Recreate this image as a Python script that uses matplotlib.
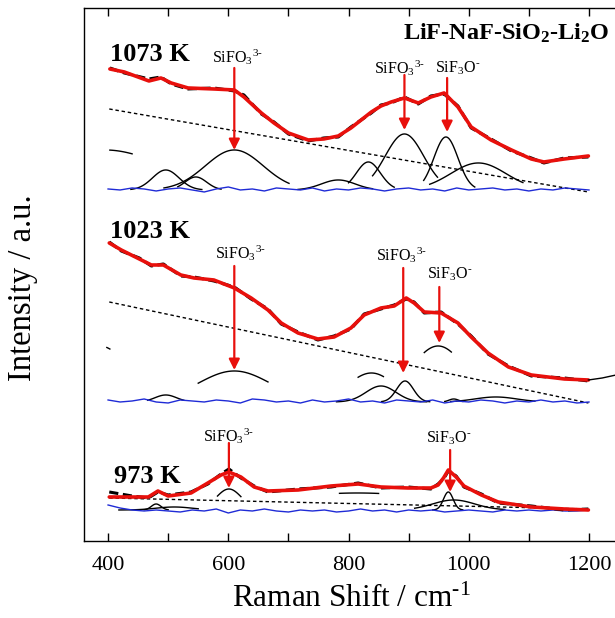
"""
Stacked Raman spectra of LiF-NaF-SiO2-Li2O melt with Gaussian deconvolution.
"""
import numpy as np
import matplotlib
matplotlib.use('Agg')
import matplotlib.pyplot as plt
from matplotlib.ticker import MultipleLocator

plt.rcParams.update({
    'font.family': 'Liberation Serif',
    'mathtext.fontset': 'custom',
    'mathtext.rm': 'Liberation Serif',
    'mathtext.it': 'Liberation Serif:italic',
    'mathtext.bf': 'Liberation Serif:bold',
})

HY = '\u2010'  # short hyphen used in the superscript charges

# ---- fitted envelope (red) ----
fit_1073_x = [403, 427, 468, 488, 505, 533, 576, 610, 626, 655, 676, 700, 733, 759, 783, 804,
              838, 854, 871, 893, 916, 937, 959, 982, 1004, 1037, 1071, 1104, 1125, 1159, 1199]
fit_1073_y = [472, 469, 460, 463, 458, 453, 452, 451, 444, 428, 418, 408, 401, 402, 405, 413,
              429, 435, 439, 443, 438, 444, 448, 434, 414, 401, 391, 382, 379, 382, 385]

fit_1023_x = [402, 422, 452, 472, 492, 521, 543, 576, 610, 638, 666, 688, 716, 749, 776, 804,
              826, 854, 876, 896, 909, 926, 954, 982, 1004, 1032, 1066, 1104, 1159, 1199]
fit_1023_y = [298, 291, 282, 276, 276, 266, 263, 261, 253, 243, 231, 218, 208, 202, 204, 213,
              226, 233, 235, 243, 238, 229, 228, 218, 204, 188, 174, 166, 162, 161]

fit_973_x = [402, 440, 467, 483, 500, 538, 566, 588, 601, 621, 643, 666, 716, 771, 816, 854,
             899, 937, 949, 958, 966, 979, 992, 1021, 1049, 1104, 1159, 1199]
fit_973_y = [44, 44, 44, 50, 45, 48, 58, 66, 69, 64, 54, 50, 51, 55, 57, 54,
             53, 53, 56, 63, 71, 64, 55, 46, 39, 34, 32, 31]

# ---- measured spectra (black) ----
obs_1073_y = [473, 468, 462, 464, 457, 452, 453, 450, 446, 427, 419, 407, 400, 403, 404, 414,
              428, 436, 438, 444, 437, 445, 447, 435, 413, 402, 390, 383, 378, 383, 384]
obs_1023_y = [299, 290, 283, 275, 277, 265, 264, 260, 254, 242, 232, 217, 209, 201, 205, 212,
              227, 232, 236, 242, 239, 228, 229, 217, 205, 187, 175, 165, 163, 160]
obs_973_y = [49, 45, 43, 49, 46, 49, 57, 67, 72, 63, 55, 49, 52, 54, 58, 53,
             54, 52, 57, 62, 70, 65, 54, 47, 38, 35, 31, 32]
tail_1023_x = [1199, 1222, 1245]
tail_1023_y = [161, 163, 166]

# ---- linear baselines (dotted) ----
base_x = [402, 1199]
base_1073_y = [432, 349]
base_1023_y = [239, 138]
base_973_y = [43, 32]

# ---- residuals (blue) ----
res_x = np.arange(400, 1201, 20)
res_1073_y = [352, 351, 353, 352, 350, 352, 353, 351, 349, 352, 354, 351, 352, 350, 353, 352,
              351, 353, 350, 352, 351, 353, 352, 350, 352, 353, 351, 352, 350, 353, 351, 352,
              353, 351, 352, 350, 352, 351, 353, 352, 351]
res_1023_y = [141, 139, 140, 142, 139, 138, 141, 140, 139, 141, 140, 138, 142, 141, 139, 140,
              138, 141, 139, 140, 142, 139, 140, 138, 141, 140, 139, 141, 138, 140, 139, 141,
              140, 138, 140, 139, 141, 139, 140, 138, 139]
res_973_y = [36, 33, 31, 30, 31, 30, 29, 31, 30, 32, 28, 31, 30, 32, 30, 29,
             31, 30, 31, 29, 30, 32, 30, 31, 29, 31, 30, 31, 29, 30, 31, 30,
             29, 31, 30, 31, 30, 31, 30, 30, 31]

# ---- Gaussian components: (centre, height, sigma, x_from, x_to) ----
comp_1073_base = 351
comp_1073 = [(395, 40, 100, 403, 440), (496, 20, 22, 438, 556), (546, 13, 18, 516, 588),
             (610, 40, 48, 493, 701), (783, 10, 28, 716, 840), (833, 28, 20, 800, 876),
             (893, 56, 32, 840, 948), (962, 53, 20, 925, 1010), (1016, 27, 46, 935, 1090)]
comp_1023_base = 139
comp_1023 = [(380, 57, 60, 398, 403), (496, 7, 18, 466, 526), (610, 31, 60, 550, 666),
             (838, 29, 39, 816, 858), (854, 16, 25, 780, 930), (894, 21, 14, 855, 935),
             (975, 3, 8, 960, 990), (949, 56, 46, 926, 971), (1045, 5, 35, 970, 1110)]
comp_973_base = 31
comp_973 = [(480, 6, 8, 460, 500), (510, 3, 30, 418, 550), (601, 21, 21, 582, 621),
            (815, 17, 150, 785, 850), (966, 18, 8, 940, 990), (975, 10, 35, 910, 1060)]

# ---- annotations ----
temps = ['1073 K', '1023 K', '973 K']
temp_pos = [(403, 486), (403, 309), (410, 64)]
SIFO3 = r'SiFO$_3$$^{3' + HY + '}$'
SIF3O = r'SiF$_3$O$^{' + HY + '}$'
# (label, text x, text y, arrow x, arrow start y, arrow tip y)
peak_marks = [
    (SIFO3, 615, 484, 610, 473, 391),
    (SIFO3, 884, 473, 893, 466, 411),
    (SIF3O, 982, 473, 964, 463, 409),
    (SIFO3, 621, 288, 610, 275, 171),
    (SIFO3, 888, 286, 891, 273, 168),
    (SIF3O, 969, 267, 951, 254, 198),
    (SIFO3, 601, 105, 601, 98, 53),
    (SIF3O, 966, 103, 969, 91, 49),
]


def draw_components(ax, comps, base):
    for c, h, s, x0, x1 in comps:
        xx = np.linspace(x0, x1, 80)
        ax.plot(xx, base + h * np.exp(-(xx - c) ** 2 / (2 * s ** 2)), color='k', lw=1.0)


fig = plt.figure(figsize=(6.15, 6.18), dpi=100)
ax = fig.add_axes([0.1366, 0.1246, 0.870, 0.8625])

for fx, fy, oy, by, ry, comps, cb in [
    (fit_1073_x, fit_1073_y, obs_1073_y, base_1073_y, res_1073_y, comp_1073, comp_1073_base),
    (fit_1023_x, fit_1023_y, obs_1023_y, base_1023_y, res_1023_y, comp_1023, comp_1023_base),
    (fit_973_x, fit_973_y, obs_973_y, base_973_y, res_973_y, comp_973, comp_973_base),
]:
    ax.plot(base_x, by, color='k', lw=1.0, linestyle=(0, (2.5, 2)))
    draw_components(ax, comps, cb)
    ax.plot(res_x, ry, color='#1f2bd6', lw=1.0)
    ax.plot(fx, oy, color='k', lw=2.2, linestyle=(0, (3, 1.5)))
    ax.plot(fx, fy, color='#e8100c', lw=2.6, solid_joinstyle='round', solid_capstyle='round')

ax.plot(tail_1023_x, tail_1023_y, color='k', lw=1.0)

for t, (tx, ty) in zip(temps, temp_pos):
    ax.text(tx, ty, t, fontsize=19, fontweight='bold', ha='left', va='center')

for lab, tx, ty, axx, y0, y1 in peak_marks:
    ax.text(tx, ty, lab, fontsize=11.5, ha='center', va='center')
    ax.annotate('', xy=(axx, y1), xytext=(axx, y0),
                arrowprops=dict(arrowstyle='-|>', color='#e8100c', lw=1.6,
                                mutation_scale=16, shrinkA=0, shrinkB=0))

ax.text(1234, 508, r'LiF-NaF-SiO$_\mathbf{2}$-Li$_\mathbf{2}$O', fontsize=17.5,
        fontweight='bold', ha='right', va='center')

ax.set_xlim(360, 1250)
ax.set_ylim(0, 533)
ax.xaxis.set_major_locator(MultipleLocator(200))
ax.xaxis.set_minor_locator(MultipleLocator(100))
ax.tick_params(axis='x', which='both', direction='in', top=True, length=6, width=1,
               labelsize=16, pad=11)
ax.set_yticks([])
ax.set_xlabel('Raman Shift / cm$^{' + HY + '1}$', fontsize=22.5, labelpad=7)
ax.set_ylabel('Intensity / a.u.', fontsize=23.5)
ax.yaxis.set_label_coords(-0.086, 0.475)
for sp in ax.spines.values():
    sp.set_linewidth(1.0)

fig.savefig('out.png', dpi=100)
